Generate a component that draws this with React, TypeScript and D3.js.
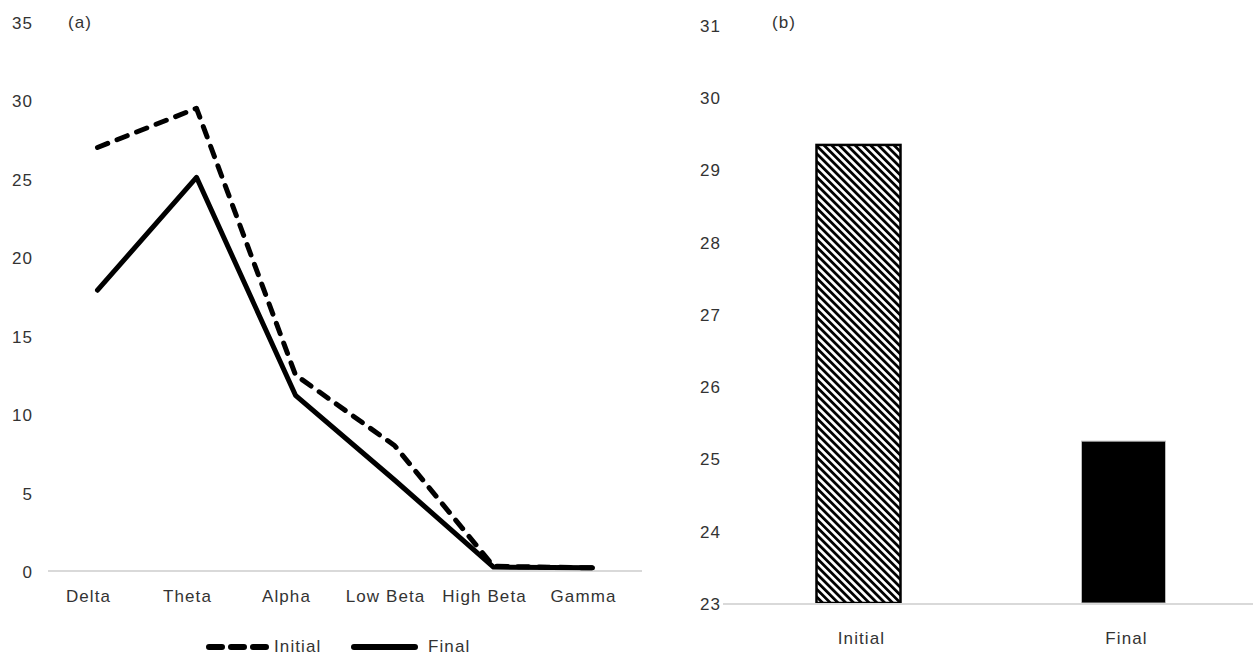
import React from "react";
import * as d3 from "d3";

const bands = ["Delta", "Theta", "Alpha", "Low Beta", "High Beta", "Gamma"];
const initialPower = [27.0, 29.5, 12.5, 8.0, 0.3, 0.2];
const finalPower = [17.9, 25.1, 11.2, 5.8, 0.25, 0.2];
const leftTicks = [0, 5, 10, 15, 20, 25, 30, 35];

const sessions = ["Initial", "Final"];
const totals = [29.34, 25.24];
const rightTicks = [23, 24, 25, 26, 27, 28, 29, 30, 31];

const width = 1253;
const height = 656;
const font = "'Liberation Sans', Arial, sans-serif";
const textColor = "#333";

const App = () => {
  // left panel scales
  const xL = d3.scaleBand().domain(bands).range([48, 642]);
  const yL = d3.scaleLinear().domain([0, 35]).range([571, 22]);
  const line = d3
    .line<number>()
    .x((d, i) => (xL(bands[i]) as number) + xL.bandwidth() / 2)
    .y((d) => yL(d));

  // right panel scales
  const xR = d3
    .scaleBand()
    .domain(sessions)
    .range([726, 1256])
    .paddingInner(0.683)
    .paddingOuter(0.3415);
  const yR = d3.scaleLinear().domain([23, 31]).range([603, 25]);

  const txt = { fontFamily: font, fontSize: 17, fill: textColor, letterSpacing: 1.1 };

  return (
    <svg
      width={width}
      height={height}
      style={{ position: "absolute", left: 0, top: 0, background: "#fff" }}
    >
      <defs>
        <pattern
          id="hatch"
          patternUnits="userSpaceOnUse"
          width={5.5}
          height={10}
          patternTransform="rotate(-45)"
        >
          <rect width={5.5} height={10} fill="#fff" />
          <line x1={1.4} y1={0} x2={1.4} y2={10} stroke="#000" strokeWidth={2.8} />
        </pattern>
      </defs>

      {/* (a) line chart */}
      <g>
        <line x1={48} x2={642} y1={yL(0)} y2={yL(0)} stroke="#d9d9d9" strokeWidth={2} />
        {leftTicks.map((t) => (
          <text key={t} x={33} y={yL(t) + 1} dy="0.35em" textAnchor="end" {...txt}>
            {t}
          </text>
        ))}
        {bands.map((b) => (
          <text
            key={b}
            x={(xL(b) as number) + xL.bandwidth() / 2 - 9}
            y={602}
            textAnchor="middle"
            {...txt}
          >
            {b}
          </text>
        ))}
        <text x={68} y={28} {...txt}>(a)</text>
        <path
          d={line(initialPower) as string}
          fill="none"
          stroke="#000"
          strokeWidth={5}
          strokeDasharray="11,10"
          strokeLinecap="round"
          strokeLinejoin="round"
        />
        <path
          d={line(finalPower) as string}
          fill="none"
          stroke="#000"
          strokeWidth={5}
          strokeLinecap="round"
          strokeLinejoin="round"
        />
        {/* legend */}
        <line
          x1={209}
          x2={271}
          y1={647}
          y2={647}
          stroke="#000"
          strokeWidth={6}
          strokeDasharray="13,9"
          strokeLinecap="round"
        />
        <text x={274} y={652} {...txt}>Initial</text>
        <line x1={354} x2={415} y1={647} y2={647} stroke="#000" strokeWidth={6} strokeLinecap="round" />
        <text x={428} y={652} {...txt}>Final</text>
      </g>

      {/* (b) bar chart */}
      <g>
        {rightTicks.map((t) => (
          <text key={t} x={721} y={yR(t) + 1} dy="0.35em" textAnchor="end" {...txt}>
            {t}
          </text>
        ))}
        <text x={772} y={28} {...txt}>(b)</text>
        {sessions.map((s, i) => (
          <rect
            key={s}
            x={xR(s) as number}
            y={yR(totals[i])}
            width={xR.bandwidth()}
            height={yR(23) - yR(totals[i])}
            fill={i === 0 ? "url(#hatch)" : "#000"}
            stroke={i === 0 ? "#000" : "#bbb"}
            strokeWidth={i === 0 ? 2.5 : 1}
          />
        ))}
        <line x1={723} x2={1253} y1={yR(23) + 1} y2={yR(23) + 1} stroke="#d9d9d9" strokeWidth={2} />
        {sessions.map((s) => (
          <text
            key={s}
            x={(xR(s) as number) + xR.bandwidth() / 2 + 3}
            y={644}
            textAnchor="middle"
            {...txt}
          >
            {s}
          </text>
        ))}
      </g>
    </svg>
  );
};

export default App;
